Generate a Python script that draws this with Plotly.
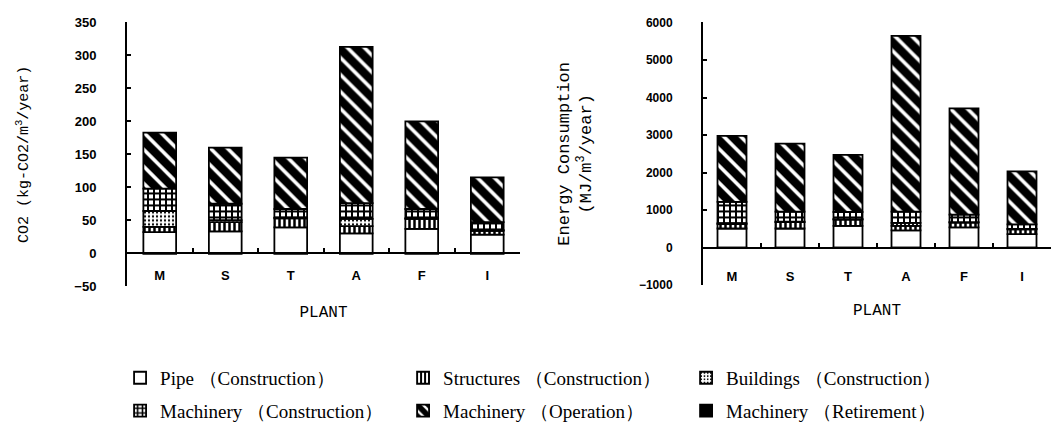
import plotly.graph_objects as go

categories = ["M", "S", "T", "A", "F", "I"]

# CO2 (kg-CO2/m3/year)
co2_pipe = [32, 33, 39, 30, 37, 28]
co2_structures = [8, 14, 14, 11, 15, 6]
co2_buildings = [24, 3, 1, 11, 1, 1]
co2_mach_con = [34, 25, 13, 24, 14, 12]
co2_mach_op = [85, 85, 78, 237, 133, 68]
co2_mach_ret = [-1, -1, -1, -1, -1, -1]

# Energy consumption (MJ/m3/year)
en_pipe = [510, 510, 580, 460, 540, 360]
en_structures = [120, 170, 170, 120, 130, 130]
en_buildings = [20, 10, 10, 80, 10, 10]
en_mach_con = [570, 270, 190, 300, 200, 120]
en_mach_op = [1760, 1810, 1520, 4680, 2830, 1410]
en_mach_ret = [-10, -10, -10, -10, -10, -10]

series_names = ["Pipe （Construction）", "Structures （Construction）", "Buildings （Construction）",
                "Machinery （Construction）", "Machinery （Operation）", "Machinery （Retirement）"]

styles = [
    dict(color="white", pattern=None),
    dict(color="white", pattern=dict(shape="|", fgcolor="black", bgcolor="white", size=5, solidity=0.5, fgopacity=1)),
    dict(color="white", pattern=dict(shape=".", fgcolor="black", bgcolor="white", size=4, solidity=0.25, fgopacity=1)),
    dict(color="white", pattern=dict(shape="+", fgcolor="black", bgcolor="white", size=6, solidity=0.55, fgopacity=1)),
    dict(color="white", pattern=dict(shape="\\", fgcolor="black", bgcolor="white", size=12, solidity=0.7, fgopacity=1)),
    dict(color="black", pattern=None),
]
legend_ids = ["legend", "legend", "legend", "legend2", "legend2", "legend2"]

co2_data = [co2_pipe, co2_structures, co2_buildings, co2_mach_con, co2_mach_op, co2_mach_ret]
en_data = [en_pipe, en_structures, en_buildings, en_mach_con, en_mach_op, en_mach_ret]

fig = go.Figure()
for name, st, lg, vals in zip(series_names, styles, legend_ids, co2_data):
    marker = dict(color=st["color"], line=dict(color="black", width=1.8))
    if st["pattern"]:
        marker["pattern"] = st["pattern"]
    fig.add_trace(go.Bar(x=categories, y=vals, name=name, marker=marker, width=0.5,
                         xaxis="x", yaxis="y", legend=lg, showlegend=True))
for name, st, lg, vals in zip(series_names, styles, legend_ids, en_data):
    marker = dict(color=st["color"], line=dict(color="black", width=1.8))
    if st["pattern"]:
        marker["pattern"] = st["pattern"]
    fig.add_trace(go.Bar(x=categories, y=vals, name=name, marker=marker, width=0.5,
                         xaxis="x2", yaxis="y2", legend=lg, showlegend=False))

W, H = 1057, 440
y1_dom = [1 - 289 / H, 1 - 16 / H]
y2_dom = [1 - 288 / H, 1 - 16 / H]
y1_range = [-50, 350]
y2_range = [-1000, 6000]

def zero_pos(dom, rng):
    return dom[0] + (0 - rng[0]) / (rng[1] - rng[0]) * (dom[1] - dom[0])

def tfont(size):
    return dict(family="Liberation Sans", size=size, color="black", weight="bold")

common_y = dict(showline=True, linecolor="black", linewidth=2, ticks="inside", ticklen=4,
                tickcolor="black", tickwidth=1.5, showgrid=False, zeroline=False,
                ticklabelstandoff=26)
common_x = dict(type="category", range=[-0.5, 5.5], showline=True, linecolor="black", linewidth=2,
                ticks="inside", tickson="boundaries", ticklen=4, tickcolor="black", tickwidth=1.5,
                showgrid=False, zeroline=False, anchor="free")

plant_font = dict(family="Liberation Mono", size=16, color="black")

fig.update_layout(
    width=W, height=H,
    margin=dict(l=0, r=0, t=0, b=0),
    paper_bgcolor="white", plot_bgcolor="white",
    barmode="relative",
    xaxis=dict(domain=[127 / W, 520 / W], position=zero_pos(y1_dom, y1_range),
               tickfont=tfont(13), ticklabelstandoff=10,
               title=dict(text="PLANT", font=plant_font, standoff=23),
               **common_x),
    yaxis=dict(domain=y1_dom, range=y1_range, dtick=50, anchor="x", tickfont=tfont(13),
               title=dict(text="CO2 (kg-CO2/m<sup>3</sup>/year)",
                          font=dict(family="Liberation Mono", size=15, color="black"), standoff=42),
               **common_y),
    xaxis2=dict(domain=[703 / W, 1051 / W], position=zero_pos(y2_dom, y2_range),
                tickfont=tfont(13), ticklabelstandoff=17,
                title=dict(text="PLANT", font=plant_font, standoff=20),
                **common_x),
    yaxis2=dict(domain=y2_dom, range=y2_range, dtick=1000, anchor="x2", tickfont=tfont(12),
                title=dict(text="Energy Consumption<br>(MJ/m<sup>3</sup>/year)",
                           font=dict(family="Liberation Mono", size=17, color="black"), standoff=43),
                **common_y),
    legend=dict(orientation="h", x=0.1136, y=1 - 384 / H, xanchor="left", yanchor="middle",
                traceorder="normal", entrywidth=238, entrywidthmode="pixels",
                font=dict(family="Liberation Serif", size=19, color="black"), bgcolor="rgba(0,0,0,0)"),
    legend2=dict(orientation="h", x=0.1136, y=1 - 418 / H, xanchor="left", yanchor="middle",
                 traceorder="normal", entrywidth=238, entrywidthmode="pixels",
                 font=dict(family="Liberation Serif", size=19, color="black"), bgcolor="rgba(0,0,0,0)"),
)

fig.write_html("out.html")
